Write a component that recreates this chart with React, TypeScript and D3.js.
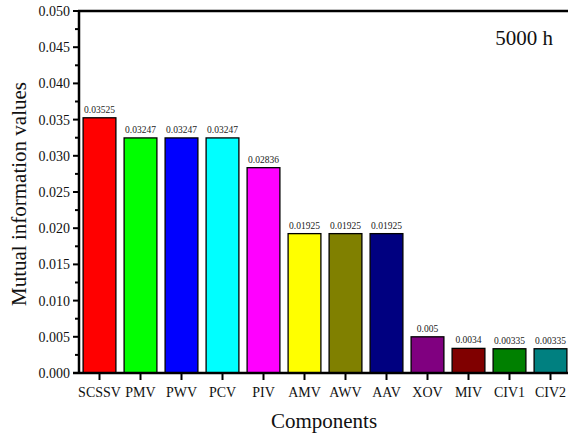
import React from "react";
import * as d3 from "d3";

// chart data
const components = ["SCSSV", "PMV", "PWV", "PCV", "PIV", "AMV", "AWV", "AAV", "XOV", "MIV", "CIV1", "CIV2"];
const miValues = [0.03525, 0.03247, 0.03247, 0.03247, 0.02836, 0.01925, 0.01925, 0.01925, 0.005, 0.0034, 0.00335, 0.00335];
const valueLabels = ["0.03525", "0.03247", "0.03247", "0.03247", "0.02836", "0.01925", "0.01925", "0.01925", "0.005", "0.0034", "0.00335", "0.00335"];
const barColors = ["#ff0000", "#00ff00", "#0000ff", "#00ffff", "#ff00ff", "#ffff00", "#808000", "#000080", "#800080", "#800000", "#008000", "#008080"];
const yTicks = [0, 0.005, 0.01, 0.015, 0.02, 0.025, 0.03, 0.035, 0.04, 0.045, 0.05];

const font = "Liberation Serif, DejaVu Serif, serif";

export default function App() {
  const width = 568;
  const height = 436;
  const margin = { top: 11, left: 79, bottom: 63 };
  const innerWidth = 492;
  const innerHeight = height - margin.top - margin.bottom;

  const xScale = d3.scaleBand<string>()
    .domain(components)
    .range([0, innerWidth])
    .paddingInner(0.2)
    .paddingOuter(0.1);

  const yScale = d3.scaleLinear()
    .domain([0, 0.05])
    .range([innerHeight, 0]);

  const minorTicks = d3.range(0.0025, 0.05, 0.005);
  const txt = { fontFamily: font };

  return (
    <svg width={width} height={height} style={{ position: "absolute", left: 0, top: 0, background: "#fff", fontFamily: font }}>
      <g transform={`translate(${margin.left},${margin.top})`}>
        {components.map((c, i) => {
          const x = xScale(c) as number;
          const y = yScale(miValues[i]);
          return (
            <g key={c}>
              <rect x={x} y={y} width={xScale.bandwidth()} height={innerHeight - y}
                fill={barColors[i]} stroke="#000" strokeWidth={1.3} />
              <text x={x + xScale.bandwidth() / 2} y={y - 5} textAnchor="middle" fontSize={9.5} fill="#222" style={txt}>
                {valueLabels[i]}
              </text>
            </g>
          );
        })}

        {/* y axis */}
        <line x1={0} x2={0} y1={0} y2={innerHeight} stroke="#000" strokeWidth={2.5} />
        {yTicks.map(t => (
          <g key={t} transform={`translate(0,${yScale(t)})`}>
            <line x1={-6} x2={0} stroke="#000" strokeWidth={2} />
            <text x={-9} dy="0.35em" textAnchor="end" fontSize={14} fill="#111" style={txt}>{d3.format(".3f")(t)}</text>
          </g>
        ))}
        {minorTicks.map(t => (
          <line key={t} x1={-4} x2={0} y1={yScale(t)} y2={yScale(t)} stroke="#000" strokeWidth={2} />
        ))}

        {/* top frame */}
        <line x1={-1} x2={innerWidth + 2} y1={0} y2={0} stroke="#000" strokeWidth={2.5} />

        {/* x axis */}
        <line x1={-6} x2={innerWidth + 2} y1={innerHeight} y2={innerHeight} stroke="#000" strokeWidth={2.5} />
        {components.map(c => {
          const cx = (xScale(c) as number) + xScale.bandwidth() / 2;
          return (
            <g key={c} transform={`translate(${cx},${innerHeight})`}>
              <line y1={0} y2={7} stroke="#000" strokeWidth={2} />
              <text y={24} textAnchor="middle" fontSize={14} fill="#111" style={txt}>{c}</text>
            </g>
          );
        })}

        <text x={innerWidth - 18} y={34} textAnchor="end" fontSize={21} fill="#111" style={txt}>5000 h</text>
      </g>

      <text x={324} y={428} textAnchor="middle" fontSize={21} fill="#111" style={txt}>Components</text>
      <text transform={`translate(26,${margin.top + innerHeight / 2 + 2}) rotate(-90)`} textAnchor="middle" fontSize={21} fill="#111" style={txt}>
        Mutual information values
      </text>
    </svg>
  );
}
